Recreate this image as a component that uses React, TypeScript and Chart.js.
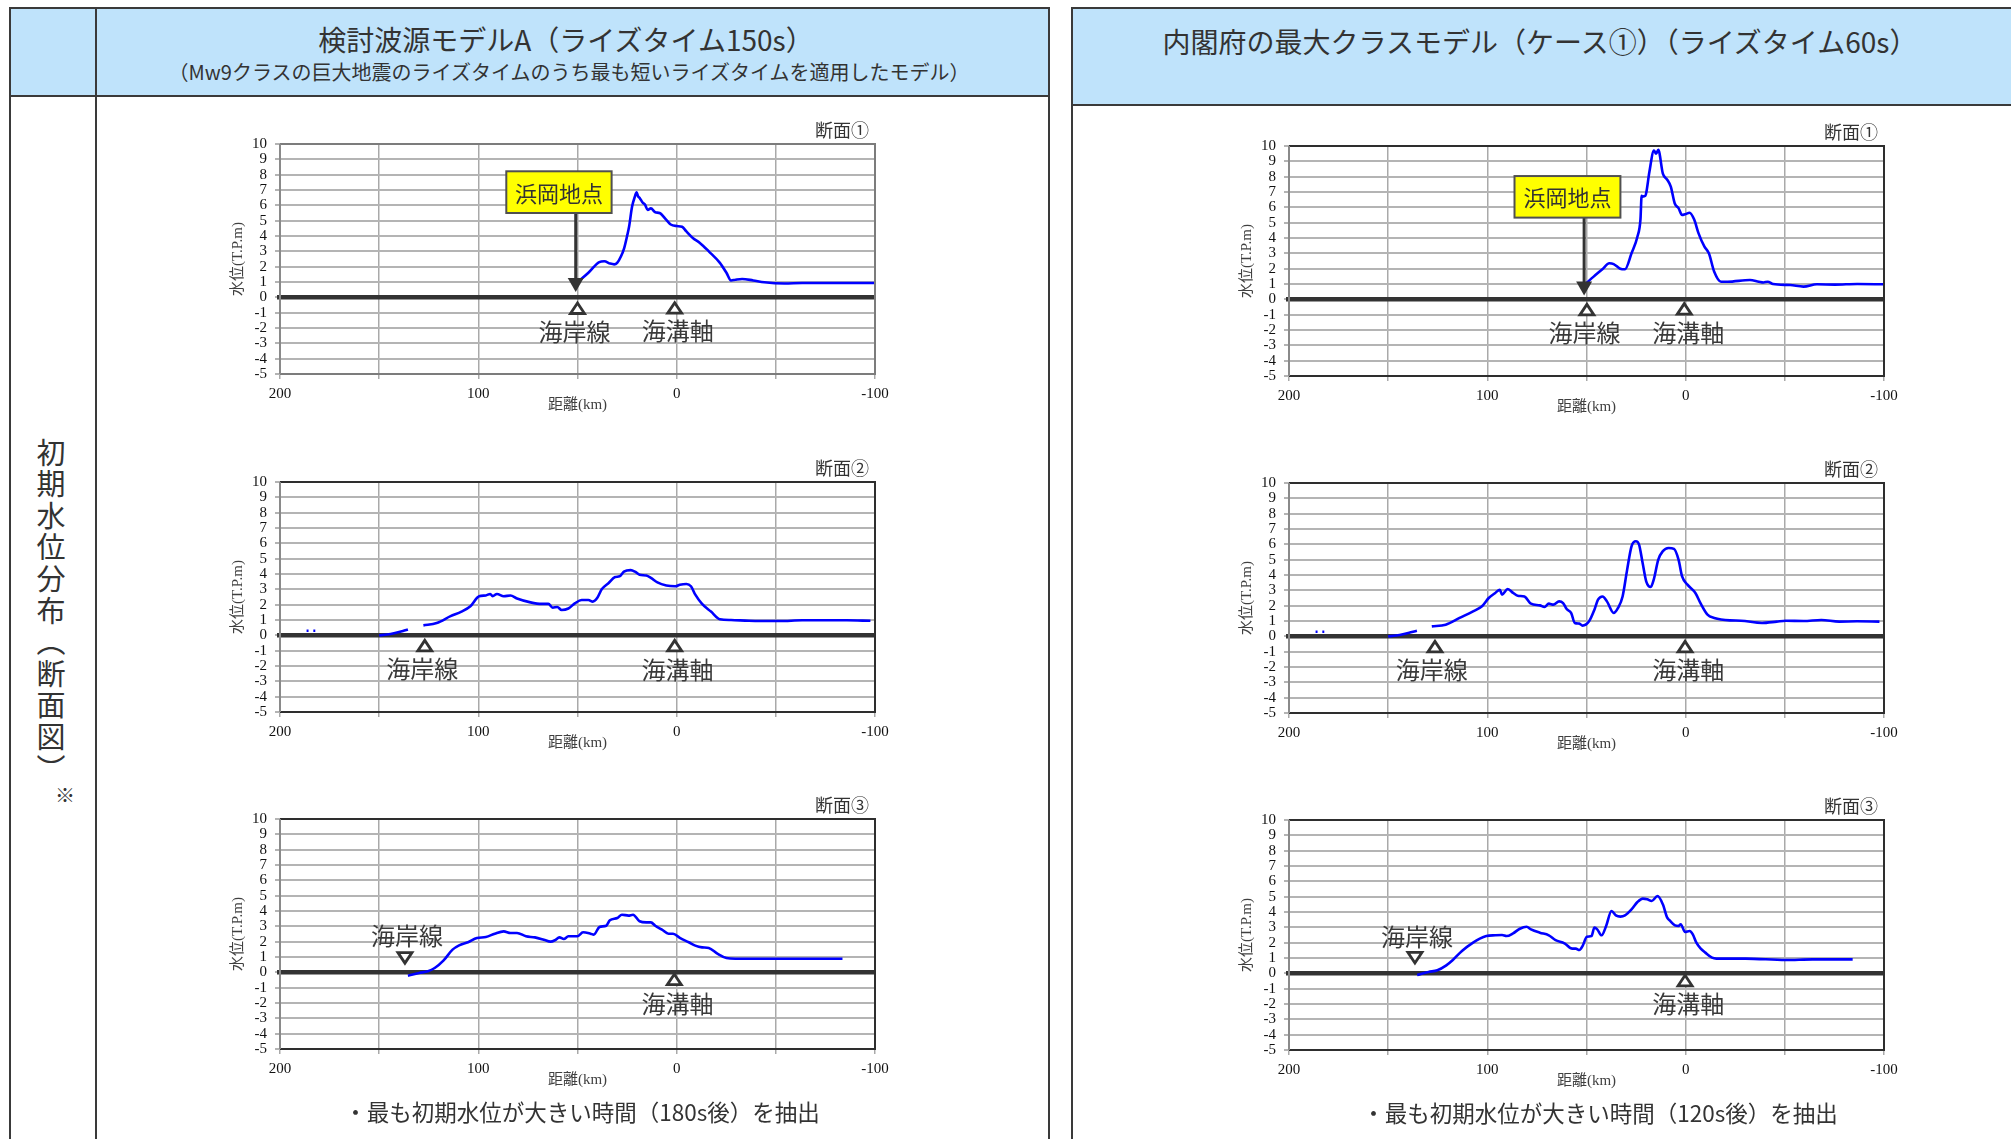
import React, { useEffect, useRef } from 'react';
import { Chart, registerables } from 'chart.js';

Chart.register(...registerables);

// ---------- axis ticks ----------
const xTickLabels = [200, 100, 0, -100];
const xMin = -100;
const xMax = 200;
const yMin = -5;
const yMax = 10;

// ---------- 検討波源モデルA ----------
const a1Km = [50.5, 49, 44.5, 39, 36.5, 33.5, 31.5, 30, 28, 26.5, 25, 24, 22.5, 21, 20.2, 19.5, 18.5, 17.3, 16, 14.6, 13, 10.8, 8.6, 5.2, 3, 0, -2.7, -4.9, -8.3, -11.7, -16.2, -21.8, -25.1, -27.4, -29.6, -33, -38.6, -44.2, -54.4, -63.3, -85.8, -100];
const a1Level = [0.95, 1.1, 1.6, 2.3, 2.35, 2.2, 2.15, 2.25, 2.7, 3.2, 4.0, 4.6, 5.9, 6.6, 6.85, 6.6, 6.45, 6.2, 6.05, 5.7, 5.8, 5.55, 5.5, 5.05, 4.75, 4.65, 4.6, 4.3, 3.85, 3.55, 3.0, 2.25, 1.6, 1.1, 1.15, 1.2, 1.1, 0.98, 0.9, 0.93, 0.93, 0.93];

const a2Km = [186.6, 185.6, 184.5, 183.2, 182.2, 170, 150, 146, 142, 138, 135.5, 131, 127.7, 121, 114, 108.5, 104, 99.6, 96.2, 94, 92.8, 90.6, 87.2, 83.8, 80.5, 73.7, 68.1, 64.7, 62.5, 60.2, 58, 54.6, 51.2, 47.9, 44.5, 42.3, 40, 37.8, 34.4, 31, 28.8, 26.6, 23.2, 21, 18.7, 15.3, 13, 9.7, 5.2, 0.7, -1.6, -4.9, -7.2, -9.4, -12.8, -17.3, -21.8, -27.4, -36.4, -52.1, -63.3, -85.8, -97.7];
const a2Level = [0.3, 0.3, null, 0.3, 0.3, null, 0.0, 0.05, 0.15, 0.28, 0.38, null, 0.65, 0.8, 1.25, 1.55, 1.9, 2.55, 2.6, 2.7, 2.55, 2.7, 2.55, 2.6, 2.4, 2.15, 2.05, 2.05, 1.8, 1.85, 1.65, 1.75, 2.1, 2.3, 2.3, 2.2, 2.45, 3.0, 3.4, 3.8, 3.85, 4.15, 4.25, 4.15, 3.95, 3.9, 3.75, 3.45, 3.25, 3.2, 3.3, 3.35, 3.2, 2.65, 2.05, 1.55, 1.05, 1.0, 0.95, 0.93, 0.98, 0.98, 0.95];

const a3Km = [135.5, 129.9, 125.4, 122, 117.5, 113, 109.7, 105.2, 100.7, 96.2, 91.7, 87.2, 83.8, 80.5, 76, 71.5, 67, 63.6, 61.4, 59.1, 56.9, 54.6, 50.1, 47.2, 43.4, 41.8, 38.9, 35.5, 33.7, 29.9, 27.6, 24.3, 22, 18.7, 15.3, 13, 10.8, 7.4, 4.1, 1.8, -1.6, -6.1, -9.4, -12.8, -16.2, -20.7, -25.1, -29.6, -52.1, -83.6];
const a3Level = [-0.22, -0.04, 0.07, 0.28, 0.78, 1.48, 1.76, 1.96, 2.24, 2.3, 2.52, 2.67, 2.57, 2.57, 2.35, 2.28, 2.13, 2.0, 2.09, 2.28, 2.17, 2.35, 2.35, 2.61, 2.52, 2.46, 2.96, 3.04, 3.39, 3.54, 3.76, 3.7, 3.76, 3.33, 3.26, 3.26, 3.04, 2.78, 2.52, 2.52, 2.24, 1.96, 1.74, 1.63, 1.59, 1.2, 0.93, 0.89, 0.89, 0.89];

// ---------- 内閣府の最大クラスモデル ----------
const b1Km = [50.2, 46.4, 42, 38.5, 36.3, 33, 30.6, 27.3, 24.3, 22.8, 22.2, 21.8, 20.3, 19.8, 18.3, 16, 14.9, 13.8, 11.5, 9.3, 7.5, 5.5, 3.6, 1.8, 0.3, -2, -4.3, -6.5, -9.4, -11.7, -14.4, -17.8, -21.1, -32.4, -36.9, -39.2, -41.4, -44.1, -52.7, -59.4, -66.2, -75.2, -86.5, -100];
const b1Level = [1.04, 1.48, 1.96, 2.35, 2.3, 2.0, 1.96, 3.0, 4.1, 5.2, 6.75, 6.7, 6.75, 7.0, 8.3, 9.7, 9.5, 9.75, 8.2, 7.8, 7.35, 6.25, 5.95, 5.5, 5.55, 5.65, 5.2, 4.3, 3.45, 3.0, 1.8, 1.15, 1.15, 1.26, 1.15, 1.1, 1.15, 1.0, 0.93, 0.83, 0.98, 0.96, 1.0, 0.98];

const b2Km = [186.6, 185.6, 184.5, 183.2, 182.2, 170, 150, 146, 142, 138, 135.5, 131, 128, 121, 114, 107.2, 102.7, 99.3, 96, 93.7, 92.6, 89.7, 87, 84.7, 81.3, 78, 73.5, 71.2, 69, 66.7, 63.8, 61.8, 60, 57.7, 55.9, 53.6, 52, 48.7, 46, 44.2, 41.9, 39.7, 36.3, 34.1, 31.8, 29.5, 27.3, 25.1, 23.5, 21.7, 19.9, 17.6, 16.1, 13.8, 11.6, 8.6, 5.9, 3.6, 1.8, -0.9, -4.9, -7.6, -11, -14.4, -22.3, -27.9, -38.5, -45.9, -50.4, -59.4, -68.4, -77.4, -86.4, -97.7];
const b2Level = [0.3, 0.3, null, 0.3, 0.3, null, 0.0, 0.05, 0.15, 0.28, 0.36, null, 0.65, 0.76, 1.2, 1.63, 1.96, 2.5, 2.83, 3.04, 2.72, 3.09, 2.83, 2.65, 2.6, 2.13, 2.02, 1.91, 2.13, 2.07, 2.28, 2.17, 1.78, 1.52, 0.87, 0.83, 0.7, 0.98, 1.74, 2.39, 2.6, 2.28, 1.52, 1.85, 2.6, 4.35, 5.87, 6.2, 5.98, 4.78, 3.59, 3.22, 3.7, 5.0, 5.54, 5.76, 5.7, 5.0, 3.91, 3.37, 2.83, 2.13, 1.41, 1.2, 1.04, 1.02, 0.87, 0.96, 1.02, 1.0, 1.07, 0.96, 0.98, 0.96];

const b3Km = [135.4, 129.7, 125.2, 120.7, 117.4, 112.8, 107.2, 103.8, 100.5, 96, 92.6, 90.3, 87, 83.6, 80.2, 78, 73.5, 69, 65.6, 61.1, 57.2, 55.4, 53.6, 52, 49.8, 47.5, 46, 44.6, 42.4, 40.1, 37.4, 35.2, 32.9, 30.6, 27.3, 24.3, 21.6, 19.4, 17.1, 14.2, 11.5, 9.3, 8.1, 5.4, 3.6, 2.5, 0.3, -2, -3.6, -5.4, -7.6, -9.9, -13.3, -15.5, -30.2, -50.4, -63.9, -84.2];
const b3Level = [-0.11, 0.09, 0.2, 0.52, 0.87, 1.46, 2.0, 2.26, 2.43, 2.48, 2.5, 2.43, 2.61, 2.91, 3.04, 2.87, 2.65, 2.48, 2.17, 1.96, 1.61, 1.61, 1.52, 1.78, 2.39, 2.43, 2.98, 2.87, 2.48, 3.09, 4.07, 3.78, 3.7, 3.78, 4.17, 4.65, 4.87, 4.83, 4.72, 5.04, 4.5, 3.63, 3.46, 3.13, 3.09, 3.2, 2.7, 2.76, 2.54, 2.0, 1.61, 1.35, 1.02, 0.96, 0.96, 0.87, 0.91, 0.91];

// ---------- annotations (data units: km, T.P.m) ----------
const a1Markers = [
  { label: '海岸線', km: 50, val: -0.37, dir: 'up', textKm: 51.5, textVal: -2.25 },
  { label: '海溝軸', km: 1, val: -0.35, dir: 'up', textKm: -0.5, textVal: -2.2 },
];
const b1Markers = [
  { label: '海岸線', km: 49.8, val: -0.33, dir: 'up', textKm: 51, textVal: -2.2 },
  { label: '海溝軸', km: 0.7, val: -0.28, dir: 'up', textKm: -1.3, textVal: -2.2 },
];
const a2Markers = [
  { label: '海岸線', km: 127, val: -0.33, dir: 'up', textKm: 128.3, textVal: -2.2 },
  { label: '海溝軸', km: 1, val: -0.33, dir: 'up', textKm: -0.4, textVal: -2.24 },
];
const b2Markers = [
  { label: '海岸線', km: 126.4, val: -0.33, dir: 'up', textKm: 128, textVal: -2.2 },
  { label: '海溝軸', km: 0.3, val: -0.33, dir: 'up', textKm: -1.3, textVal: -2.2 },
];
const a3Markers = [
  { label: '海岸線', km: 137, val: 0.6, dir: 'down', textKm: 136, textVal: 2.35 },
  { label: '海溝軸', km: 1.2, val: -0.12, dir: 'up', textKm: -0.4, textVal: -2.05 },
];
const b3Markers = [
  { label: '海岸線', km: 136.5, val: 0.68, dir: 'down', textKm: 135.4, textVal: 2.4 },
  { label: '海溝軸', km: 0.3, val: -0.13, dir: 'up', textKm: -1.3, textVal: -2.0 },
];
const a1Hamaoka = { text: '浜岡地点', kmLeft: 85.9, kmRight: 32.8, valTop: 8.22, valBottom: 5.5, arrowKm: 50.9, tipVal: 0.35 };
const b1Hamaoka = { text: '浜岡地点', kmLeft: 86.3, kmRight: 32.9, valTop: 8.04, valBottom: 5.33, arrowKm: 51.2, tipVal: 0.25 };

// ---------- layout ----------
const PW = 595;
const PH = 230;
const PAD_L = 70;
const PAD_T = 40;
const PAD_R = 40;
const PAD_B = 50;
const CW = PW + PAD_L + PAD_R;
const CH = PH + PAD_T + PAD_B;

const SERIF = '"Liberation Serif", "Noto Sans CJK JP", serif';
const SANS = '"Noto Sans CJK JP", "Noto Sans", sans-serif';
const INK = '#333333';

const overlayPlugin = {
  id: 'overlay',
  beforeDatasetsDraw(chart: any) {
    const { ctx, chartArea: a, scales } = chart;
    const y0 = scales.y.getPixelForValue(0);
    ctx.save();
    ctx.strokeStyle = '#333';
    ctx.lineWidth = 4.5;
    ctx.beginPath();
    ctx.moveTo(a.left - 3, y0);
    ctx.lineTo(a.right, y0);
    ctx.stroke();
    ctx.restore();
  },
  afterDatasetsDraw(chart: any, _args: any, opts: any) {
    const { ctx, chartArea: a, scales } = chart;
    const xs = scales.x;
    const ys = scales.y;
    ctx.save();
    // frame
    ctx.lineWidth = 2;
    ctx.strokeStyle = opts.frame;
    ctx.beginPath();
    ctx.moveTo(a.left, a.top);
    ctx.lineTo(a.right, a.top);
    ctx.lineTo(a.right, a.bottom);
    ctx.lineTo(a.left, a.bottom);
    ctx.stroke();
    ctx.strokeStyle = '#8a8a8a';
    ctx.beginPath();
    ctx.moveTo(a.left, a.top);
    ctx.lineTo(a.left, a.bottom);
    ctx.stroke();

    // section label
    ctx.fillStyle = INK;
    ctx.font = `18px ${SERIF}`;
    ctx.textAlign = 'right';
    ctx.textBaseline = 'middle';
    ctx.fillText(opts.section, a.right - 6, a.top - 12);

    // markers
    for (const m of opts.markers) {
      const px = xs.getPixelForValue(m.km);
      const py = ys.getPixelForValue(m.val);
      const w = 7;
      const h = 10.5;
      ctx.beginPath();
      if (m.dir === 'up') {
        ctx.moveTo(px, py);
        ctx.lineTo(px - w, py + h);
        ctx.lineTo(px + w, py + h);
      } else {
        ctx.moveTo(px, py);
        ctx.lineTo(px - w, py - h);
        ctx.lineTo(px + w, py - h);
      }
      ctx.closePath();
      ctx.fillStyle = '#fff';
      ctx.fill();
      ctx.lineWidth = 2.8;
      ctx.lineJoin = 'miter';
      ctx.strokeStyle = INK;
      ctx.stroke();
      ctx.fillStyle = '#3a3a3a';
      ctx.font = `24px ${SANS}`;
      ctx.textAlign = 'center';
      ctx.textBaseline = 'middle';
      ctx.fillText(m.label, xs.getPixelForValue(m.textKm), ys.getPixelForValue(m.textVal));
    }

    // hamaoka box + arrow
    const hm = opts.hamaoka;
    if (hm) {
      const l = xs.getPixelForValue(hm.kmLeft);
      const r = xs.getPixelForValue(hm.kmRight);
      const t = ys.getPixelForValue(hm.valTop);
      const b = ys.getPixelForValue(hm.valBottom);
      const ax = xs.getPixelForValue(hm.arrowKm);
      const tip = ys.getPixelForValue(hm.tipVal);
      ctx.strokeStyle = INK;
      ctx.lineWidth = 3;
      ctx.beginPath();
      ctx.moveTo(ax, b);
      ctx.lineTo(ax, tip - 12);
      ctx.stroke();
      ctx.fillStyle = INK;
      ctx.beginPath();
      ctx.moveTo(ax, tip);
      ctx.lineTo(ax - 8, tip - 14);
      ctx.lineTo(ax + 8, tip - 14);
      ctx.closePath();
      ctx.fill();
      ctx.fillStyle = '#ffff00';
      ctx.fillRect(l, t, r - l, b - t);
      ctx.lineWidth = 2;
      ctx.strokeStyle = '#505050';
      ctx.strokeRect(l, t, r - l, b - t);
      ctx.fillStyle = INK;
      ctx.font = `22px ${SANS}`;
      ctx.textAlign = 'center';
      ctx.textBaseline = 'middle';
      ctx.fillText(hm.text, (l + r) / 2, (t + b) / 2 + 1);
    }
    ctx.restore();
  },
};

type Props = {
  km: number[];
  level: (number | null)[];
  left: number;
  top: number;
  section: string;
  markers: any[];
  hamaoka: any;
  frame: string;
};

function SectionChart({ km, level, left, top, section, markers, hamaoka, frame }: Props) {
  const ref = useRef<HTMLCanvasElement>(null);
  useEffect(() => {
    const points = km.map((k, i) => ({ x: k, y: level[i] }));
    const chart = new Chart(ref.current as HTMLCanvasElement, {
      type: 'line',
      data: {
        datasets: [
          {
            data: points as any,
            borderColor: '#0000ff',
            borderWidth: 2.6,
            pointRadius: 0,
            fill: false,
            spanGaps: false,
            cubicInterpolationMode: 'monotone',
          },
        ],
      },
      options: {
        animation: false,
        responsive: false,
        events: [],
        layout: { padding: { left: 0, top: PAD_T, right: PAD_R, bottom: 0 } },
        plugins: {
          legend: { display: false },
          tooltip: { enabled: false },
          overlay: { section, markers, hamaoka, frame },
        } as any,
        scales: {
          x: {
            type: 'linear',
            reverse: true,
            min: xMin,
            max: xMax,
            ticks: {
              stepSize: 50,
              autoSkip: false,
              maxRotation: 0,
              padding: 6,
              color: '#111',
              font: { family: SERIF, size: 15 },
              callback: (v: any) => (xTickLabels.includes(Number(v)) ? String(v) : ''),
            },
            grid: { color: '#a9a9a9', lineWidth: 1.5, tickLength: 5, drawTicks: true },
            border: { display: false },
            title: {
              display: true,
              text: '距離(km)',
              color: '#404040',
              font: { family: SERIF, size: 15 },
              padding: { top: 0, bottom: 10 },
            },
            afterFit: (s: any) => {
              s.height = PAD_B;
              s.paddingLeft = 0;
              s.paddingRight = 0;
            },
          },
          y: {
            type: 'linear',
            min: yMin,
            max: yMax,
            ticks: {
              stepSize: 1,
              autoSkip: false,
              padding: 8,
              color: '#111',
              font: { family: SERIF, size: 15, lineHeight: 1 },
            },
            grid: { color: '#b4b4b4', lineWidth: 2, tickLength: 5, drawTicks: true },
            border: { display: false },
            title: {
              display: true,
              text: '水位(T.P.m)',
              color: '#404040',
              font: { family: SERIF, size: 15 },
              padding: { top: 19, bottom: 0 },
            },
            afterFit: (s: any) => {
              s.width = PAD_L;
              s.paddingTop = 0;
              s.paddingBottom = 0;
            },
          },
        },
      } as any,
      plugins: [overlayPlugin],
    });
    return () => chart.destroy();
  }, []);
  return (
    <canvas
      ref={ref}
      width={CW}
      height={CH}
      style={{ position: 'absolute', left: left - PAD_L, top: top - PAD_T, width: CW, height: CH }}
    />
  );
}

const line = (l: number, t: number, w: number, h: number) => (
  <div style={{ position: 'absolute', left: l, top: t, width: w, height: h, background: '#3a3a3a' }} />
);

const centered = (x: number, y: number, size: number, text: string, extra: any = {}) => (
  <div
    style={{
      position: 'absolute',
      left: x,
      top: y,
      transform: 'translate(-50%, -50%)',
      whiteSpace: 'nowrap',
      fontSize: size,
      lineHeight: 1,
      color: INK,
      ...extra,
    }}
  >
    {text}
  </div>
);

export default function App() {
  const HEAD = 'rgb(191, 227, 251)';
  return (
    <div
      style={{
        position: 'absolute',
        left: 0,
        top: 0,
        width: 2011,
        height: 1139,
        overflow: 'hidden',
        background: '#fff',
        fontFamily: SANS,
      }}
    >
      <div style={{ position: 'absolute', left: 10, top: 8, width: 1039, height: 88, background: HEAD }} />
      <div style={{ position: 'absolute', left: 1072, top: 8, width: 940, height: 97, background: HEAD }} />
      {line(9, 7, 1041, 2)}
      {line(9, 7, 2, 1140)}
      {line(1048, 7, 2, 1140)}
      {line(9, 95, 1041, 2)}
      {line(95, 7, 2, 1140)}
      {line(1071, 7, 945, 2)}
      {line(1071, 7, 2, 1140)}
      {line(1071, 104, 945, 2)}

      {centered(566, 39, 28, '検討波源モデルA（ライズタイム150s）')}
      {centered(569, 72, 20, '（Mw9クラスの巨大地震のライズタイムのうち最も短いライズタイムを適用したモデル）')}
      {centered(1540, 41, 28, '内閣府の最大クラスモデル（ケース①）（ライズタイム60s）')}

      <div
        style={{
          position: 'absolute',
          left: 36,
          top: 438,
          writingMode: 'vertical-rl',
          fontSize: 29,
          lineHeight: '29px',
          letterSpacing: 2.6,
          color: INK,
          whiteSpace: 'nowrap',
        }}
      >
        初期水位分布（断面図）
      </div>
      {centered(65, 795, 20, '※')}

      <SectionChart km={a1Km} level={a1Level} left={280} top={144} section="断面①" markers={a1Markers} hamaoka={a1Hamaoka} frame="#7c7c7c" />
      <SectionChart km={a2Km} level={a2Level} left={280} top={482} section="断面②" markers={a2Markers} hamaoka={null} frame="#2e2e2e" />
      <SectionChart km={a3Km} level={a3Level} left={280} top={819} section="断面③" markers={a3Markers} hamaoka={null} frame="#2e2e2e" />
      <SectionChart km={b1Km} level={b1Level} left={1289} top={146} section="断面①" markers={b1Markers} hamaoka={b1Hamaoka} frame="#2e2e2e" />
      <SectionChart km={b2Km} level={b2Level} left={1289} top={483} section="断面②" markers={b2Markers} hamaoka={null} frame="#2e2e2e" />
      <SectionChart km={b3Km} level={b3Level} left={1289} top={820} section="断面③" markers={b3Markers} hamaoka={null} frame="#2e2e2e" />

      {centered(582, 1111, 22.5, '・最も初期水位が大きい時間（180s後）を抽出')}
      {centered(1600, 1112, 22.5, '・最も初期水位が大きい時間（120s後）を抽出')}
    </div>
  );
}
